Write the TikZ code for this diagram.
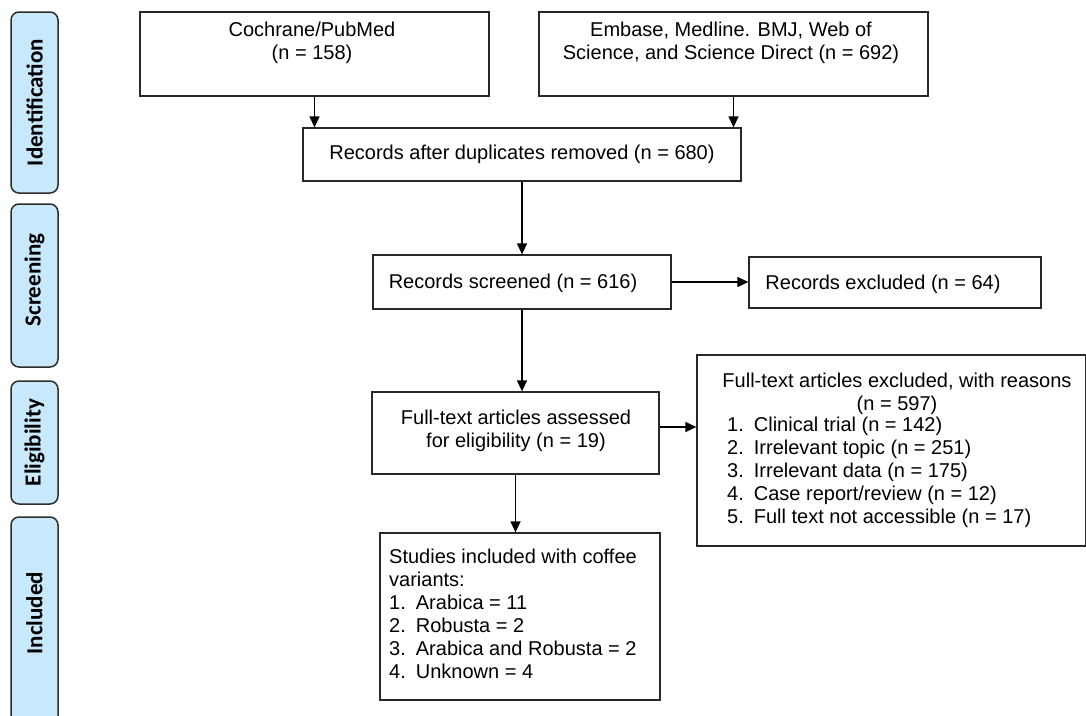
\documentclass[tikz,border=0pt]{standalone}
\usepackage{fontspec}
\setmainfont{Liberation Sans}
\newfontfamily\sidefont{Carlito}
\usetikzlibrary{arrows.meta}
\definecolor{sidefill}{RGB}{200,233,252}
\definecolor{sidedraw}{RGB}{45,45,45}
\definecolor{boxdraw}{RGB}{40,40,40}
\tikzset{
  sidebox/.style={draw=sidedraw, line width=1.5pt, fill=sidefill, rounded corners=8pt, minimum width=47pt, inner sep=0pt},
  sidelabel/.style={rotate=90, font=\sidefont\bfseries\fontsize{23}{26}\selectfont, text=black, inner sep=0pt},
  flowbox/.style={draw=boxdraw, line width=1.3pt, inner sep=0pt},
  txt/.style={font=\fontsize{20}{23}\selectfont, inner sep=0pt, align=center},
  ltxt/.style={font=\fontsize{20}{23}\selectfont, inner sep=0pt, align=left},
  arr/.style={draw=black, line width=1.3pt, -{Triangle[length=11pt,width=10pt]}},
}
\begin{document}
\begin{tikzpicture}[x=1pt,y=-1pt]
\useasboundingbox (0,0) rectangle (1086,715);
\clip (0,0) rectangle (1086,715);
% side phase labels
\node[sidebox, minimum height=181pt] (sid) at (34.5,102.5) {};
\node[sidelabel] (sidt) at (sid.center) {Identification};
\node[sidebox, minimum height=163pt] (sscr) at (34.5,285.5) {};
\node[sidelabel] (sscrt) at (34.5,280) {Screening};
\node[sidebox, minimum height=123pt] (selg) at (34.5,442.5) {};
\node[sidelabel] (selgt) at (selg.center) {Eligibility};
\node[sidebox, minimum height=210pt] (sinc) at (34.5,622) {};
\node[sidelabel] (sinct) at (34.5,613) {Included};
% flow boxes
\node[flowbox, minimum width=349pt, minimum height=84pt] (coch) at (314.5,54) {};
\node[txt] (cocht) at (312,43) {Cochrane/PubMed\\(n = 158)};
\node[flowbox, minimum width=389pt, minimum height=84pt] (emb) at (733.5,54) {};
\node[txt] (embt) at (731,43) {Embase, Medline. BMJ, Web of\\Science, and Science Direct (n = 692)};
\node[flowbox, minimum width=438pt, minimum height=53pt] (dup) at (522,154.5) {};
\node[txt] (dupt) at (dup.center) {Records after duplicates removed (n = 680)};
\node[flowbox, minimum width=298pt, minimum height=54pt] (scr) at (522,282) {};
\node[txt] (scrt) at (513,283) {Records screened (n = 616)};
\node[flowbox, minimum width=292pt, minimum height=51pt] (exc) at (895,282.5) {};
\node[txt] (exct) at (883,284) {Records excluded (n = 64)};
\node[flowbox, minimum width=287pt, minimum height=82pt] (ass) at (515.5,433) {};
\node[txt] (asst) at (516,431) {Full-text articles assessed\\for eligibility (n = 19)};
\node[flowbox, minimum width=389pt, minimum height=191pt] (fex) at (891.5,450.5) {};
\node[txt] (fext) at (897,394) {Full-text articles excluded, with reasons\\(n = 597)};
\node[ltxt, anchor=north west] (fexl) at (727,417) {1.\hspace{10pt}Clinical trial (n = 142)\\2.\hspace{10pt}Irrelevant topic (n = 251)\\3.\hspace{10pt}Irrelevant data (n = 175)\\4.\hspace{10pt}Case report/review (n = 12)\\5.\hspace{10pt}Full text not accessible (n = 17)};
\node[flowbox, minimum width=280pt, minimum height=167pt] (stud) at (520,616.5) {};
\node[ltxt, anchor=north west] (studt) at (389,549) {Studies included with coffee\\variants:\\1.\hspace{10pt}Arabica = 11\\2.\hspace{10pt}Robusta = 2\\3.\hspace{10pt}Arabica and Robusta = 2\\4.\hspace{10pt}Unknown = 4};
% connectors
\draw[arr] (coch.south) -- (coch.south |- dup.north);
\draw[arr] (emb.south) -- (emb.south |- dup.north);
\draw[arr] (dup.south) -- (dup.south |- scr.north);
\draw[arr] (scr.east) -- (scr.east -| exc.west);
\draw[arr] (scr.south) -- (scr.south |- ass.north);
\draw[arr] ([yshift=6pt]ass.east) -- ([yshift=6pt]ass.east -| fex.west);
\draw[arr] (ass.south) -- (ass.south |- stud.north);
\end{tikzpicture}
\end{document}
